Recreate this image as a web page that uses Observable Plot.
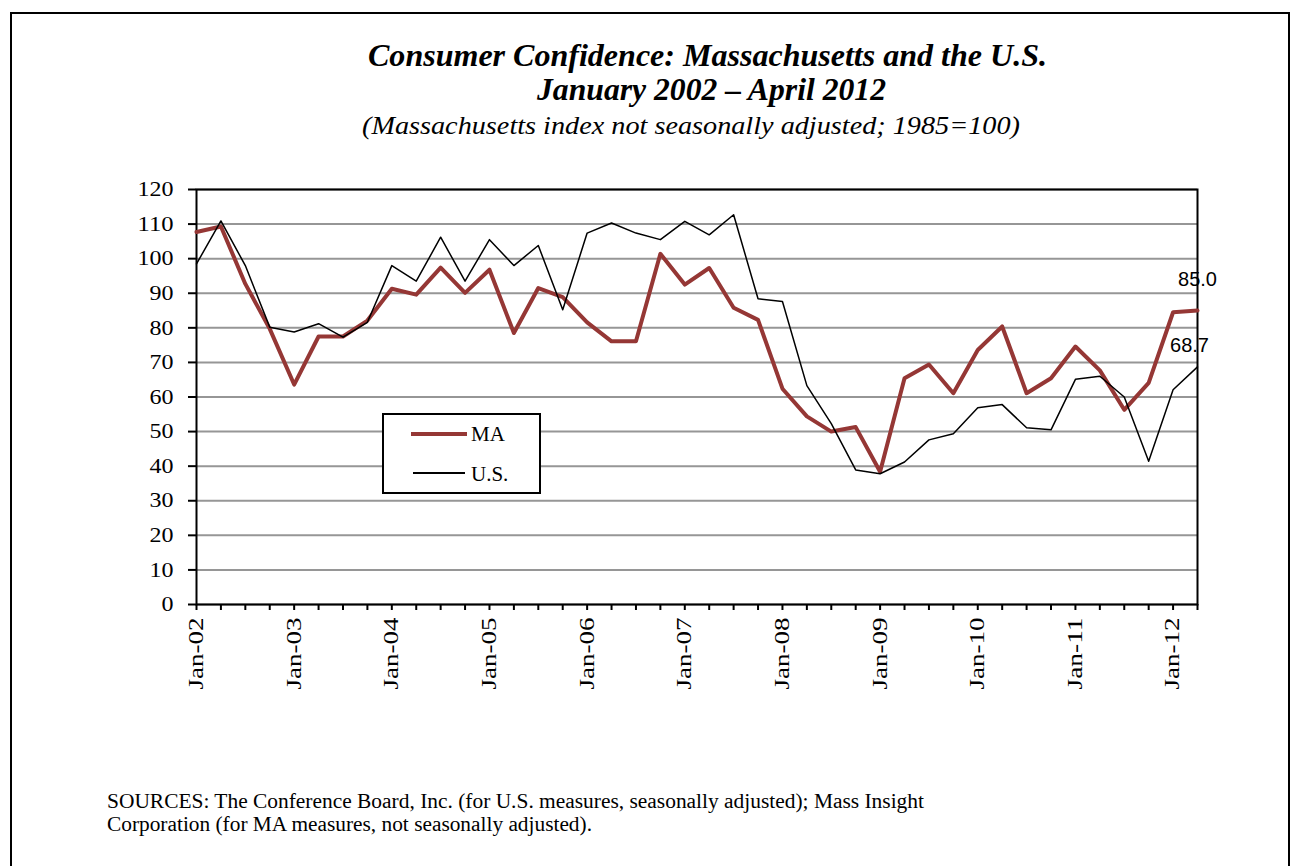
<!DOCTYPE html>
<html>
<head>
<meta charset="utf-8">
<script src="https://cdn.jsdelivr.net/npm/d3@7"></script>
<script src="https://cdn.jsdelivr.net/npm/@observablehq/plot@0.6"></script>
<style>
  html, body { margin: 0; padding: 0; background: #fff; overflow: hidden; }
  body { width: 1291px; height: 866px; position: relative; font-family: "Liberation Serif", serif; color: #000; }
  .frame { position: absolute; left: 10px; top: 12px; width: 1280px; height: 900px; border: 2px solid #000; box-sizing: border-box; }
  .txt { position: absolute; white-space: nowrap; transform-origin: left center; }
  #chart { position: absolute; left: 0; top: 150px; }
  .legend { position: absolute; left: 382px; top: 413px; width: 159px; height: 81px; border: 2px solid #000; box-sizing: border-box; background: #fff; }
  .swatch { position: absolute; }
  .ltxt { position: absolute; font-size: 21px; line-height: 21px; white-space: nowrap; }
</style>
</head>
<body>
<div class="frame"></div>
<div id="t1" class="txt" style="font-weight:bold;font-style:italic;">Consumer Confidence: Massachusetts and the U.S.</div>
<div id="t2" class="txt" style="font-weight:bold;font-style:italic;">January 2002 – April 2012</div>
<div id="t3" class="txt" style="font-style:italic;">(Massachusetts index not seasonally adjusted; 1985=100)</div>
<div id="chart"></div>
<div class="legend"></div>
<div class="swatch" style="left:411px;top:432px;width:56px;height:3.5px;background:#953735;"></div>
<div class="ltxt" style="left:471px;top:424px;">MA</div>
<div class="swatch" style="left:413px;top:472px;width:52px;height:1.5px;background:#000;"></div>
<div class="ltxt" style="left:471px;top:464px;">U.S.</div>
<div id="s1" class="txt">SOURCES: The Conference Board, Inc. (for U.S. measures, seasonally adjusted); Mass Insight</div>
<div id="s2" class="txt">Corporation (for MA measures, not seasonally adjusted).</div>
<script>
const quarters = [
  "Jan-02","Apr-02","Jul-02","Oct-02",
  "Jan-03","Apr-03","Jul-03","Oct-03",
  "Jan-04","Apr-04","Jul-04","Oct-04",
  "Jan-05","Apr-05","Jul-05","Oct-05",
  "Jan-06","Apr-06","Jul-06","Oct-06",
  "Jan-07","Apr-07","Jul-07","Oct-07",
  "Jan-08","Apr-08","Jul-08","Oct-08",
  "Jan-09","Apr-09","Jul-09","Oct-09",
  "Jan-10","Apr-10","Jul-10","Oct-10",
  "Jan-11","Apr-11","Jul-11","Oct-11",
  "Jan-12","Apr-12"
];
const maIndex = [
  107.7,109.3,92.7,79.7,
  63.6,77.5,77.5,82.1,
  91.3,89.6,97.4,90.1,
  96.8,78.5,91.5,88.9,
  81.6,76.1,76.1,101.4,
  92.5,97.3,85.8,82.3,
  62.4,54.4,50.0,51.3,
  38.4,65.4,69.4,61.1,
  73.6,80.4,61.1,65.4,
  74.6,67.7,56.3,64.1,
  84.5,85.0
];
const usIndex = [
  98.5,110.9,98.0,80.2,
  78.8,81.2,77.3,81.6,
  98.0,93.5,106.2,93.5,
  105.5,98.0,103.8,85.2,
  107.4,110.3,107.4,105.5,
  110.8,106.9,112.7,88.4,
  87.6,63.3,52.3,38.9,
  37.8,41.2,47.6,49.4,
  56.9,57.8,51.1,50.5,
  65.1,66.0,60.0,41.4,
  62.1,68.7
];
const yearLabels = ["Jan-02","Jan-03","Jan-04","Jan-05","Jan-06","Jan-07","Jan-08","Jan-09","Jan-10","Jan-11","Jan-12"];
const yTicks = [0,10,20,30,40,50,60,70,80,90,100,110,120];

const rows = quarters.map((q, i) => ({q, ma: maIndex[i], us: usIndex[i]}));
const last = [rows[rows.length - 1]];

const chart = Plot.plot({
  width: 1291,
  height: 560,
  marginTop: 39,
  marginBottom: 106,
  marginLeft: 196,
  marginRight: 94,
  style: {fontFamily: "Liberation Serif", fontSize: "20px", background: "transparent", color: "#000", overflow: "visible"},
  x: {type: "point", domain: quarters, padding: 0, round: false, label: null},
  y: {domain: [0, 120], label: null},
  marks: [
    Plot.gridY(yTicks, {stroke: "#969696", strokeOpacity: 1, strokeWidth: 2}),
    Plot.frame({stroke: "#000", strokeWidth: 2}),
    Plot.axisY(yTicks, {tickSize: 8, tickPadding: 15, strokeWidth: 2, label: null, fontSize: 21}),
    Plot.axisX(quarters, {tickSize: 6, tickPadding: 7, tickRotate: -90, strokeWidth: 2, label: null, fontSize: 20,
      tickFormat: d => yearLabels.includes(d) ? d : ""}),
    Plot.line(rows, {x: "q", y: "ma", stroke: "#953735", strokeWidth: 4}),
    Plot.line(rows, {x: "q", y: "us", stroke: "#000", strokeWidth: 1.5}),
    Plot.text(last, {x: "q", y: "ma", text: d => d.ma.toFixed(1), dy: -31, fontFamily: "Liberation Sans", fontSize: 20, fill: "#000"}),
    Plot.text(last, {x: "q", y: "us", text: d => d.us.toFixed(1), dy: -21, dx: -8, fontFamily: "Liberation Sans", fontSize: 20, fill: "#000"})
  ]
});
document.getElementById("chart").appendChild(chart);

// stretch tick labels like the original rendering
chart.querySelectorAll('g[aria-label="y-axis tick label"] text').forEach(t => {
  const n = t.textContent.length;
  if (n) { t.setAttribute("textLength", n * 12); t.setAttribute("lengthAdjust", "spacingAndGlyphs"); }
});
chart.querySelectorAll('g[aria-label="x-axis tick label"] text').forEach(t => {
  if (t.textContent.length) { t.setAttribute("textLength", 72); t.setAttribute("lengthAdjust", "spacingAndGlyphs"); }
});

function fit(id, left, width, capCenter, fs) {
  const el = document.getElementById(id);
  el.style.fontSize = fs + "px";
  el.style.lineHeight = fs + "px";
  el.style.left = left + "px";
  el.style.top = (capCenter - 0.51 * fs) + "px";
  const w = el.getBoundingClientRect().width;
  el.style.transform = "scaleX(" + (width / w) + ")";
}
fit("t1", 368, 679, 55, 32);
fit("t2", 537, 349, 89, 32);
fit("t3", 362, 658, 126, 25);
fit("s1", 107, 817, 801, 20);
fit("s2", 107, 485, 824, 20);
</script>
</body>
</html>
